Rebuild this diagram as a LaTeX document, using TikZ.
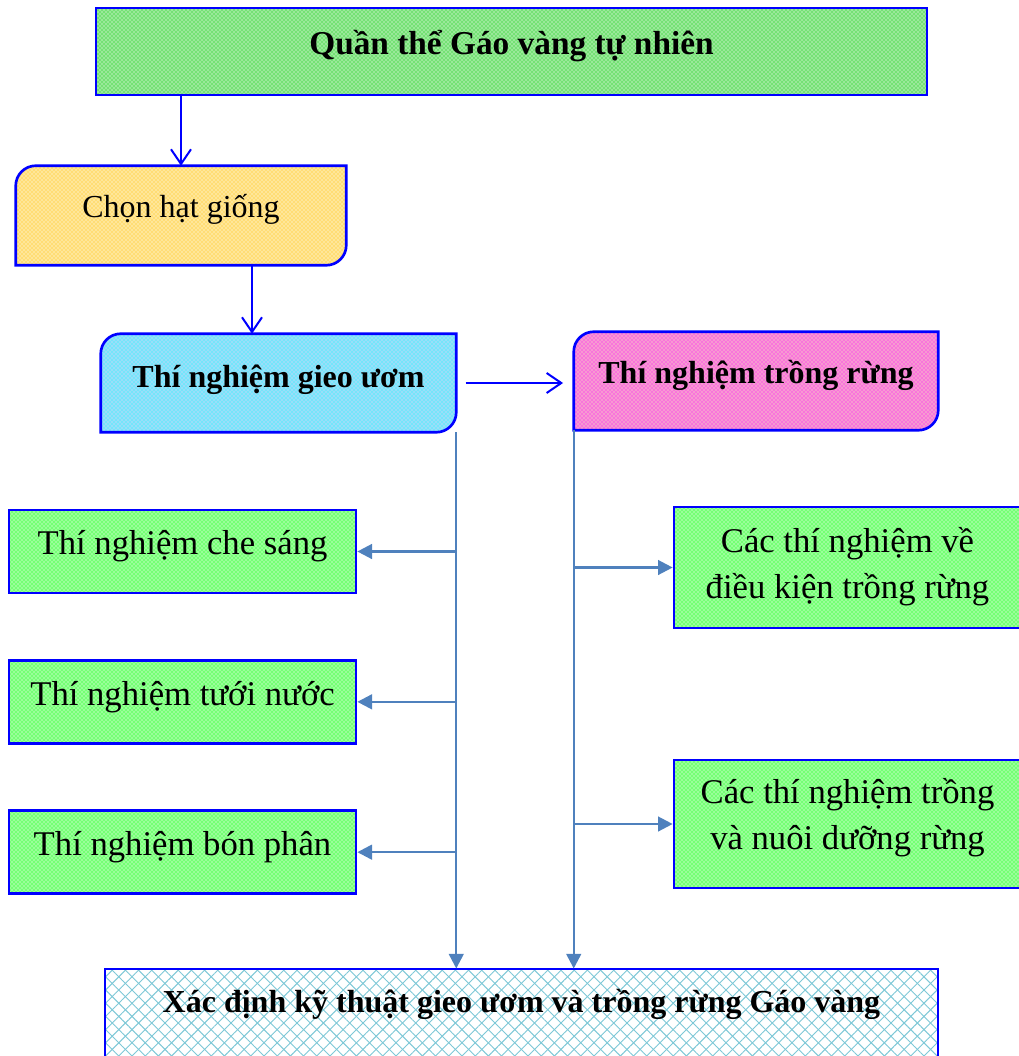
\documentclass[tikz,border=0pt]{standalone}
\usepackage{fontspec}
\setmainfont{Liberation Serif}
\usetikzlibrary{positioning, arrows.meta, patterns, patterns.meta, backgrounds}
\definecolor{frameblue}{RGB}{0,0,255}
\definecolor{linkblue}{RGB}{79,129,189}
\definecolor{seedorange}{RGB}{255,192,0}
\definecolor{gridblue}{RGB}{125,200,215}
\definecolor{darkgreen}{RGB}{0,200,0}
\tikzset{
    frame/.style={draw=frameblue, line width=2pt}, % blue outline of every box
    dotted fill/.style={preaction={fill=#1!40}, pattern=crosshatch dots, pattern color=#1},
    box/.style={frame, inner sep=0pt, align=center},
    plain/.style={inner sep=0pt, align=center}, % text of the boxes with cut corners
    stepfont/.style={font=\fontsize{26}{34.5}\selectfont},
    headfont/.style={font=\bfseries\fontsize{24}{29}\selectfont},
    sidebox/.style={box, dotted fill=green, stepfont, text depth=13pt, minimum width=260.25pt, minimum height=62.25pt},
    flow/.style={draw=frameblue, line width=1.5pt, -{Straight Barb[length=11pt, width=15pt]}},
    branch/.style={draw=linkblue, line width=1.8pt, -{Triangle[length=11pt, width=11pt]}},
    node distance=48.5pt,
}
\begin{document}
\begin{tikzpicture}[x=0.75pt, y=-0.75pt]
\useasboundingbox (0,0) rectangle (1019,1056);

% main line
\node[box, dotted fill=darkgreen, font=\bfseries\fontsize{25}{30}\selectfont, text depth=13pt,
      minimum width=623.25pt, minimum height=65.25pt] (quan) at (511.5,51.5) {Quần thể Gáo vàng tự nhiên};
\node[plain, font=\fontsize{24}{29}\selectfont, text depth=14pt, minimum width=247.5pt, minimum height=74.25pt] (chon) at (181,215.5) {Chọn hạt giống};
\node[plain, headfont, text depth=10pt, minimum width=266.25pt, minimum height=73.5pt] (gieo) at (278.5,383) {Thí nghiệm gieo ươm};
\node[plain, headfont, text depth=14pt, minimum width=273pt, minimum height=73.5pt] (trong) at (756,381) {Thí nghiệm trồng rừng};

% boxes with two cut corners
\begin{scope}[on background layer]
\foreach \n/\c in {chon/seedorange, gieo/cyan, trong/magenta}
    \draw[frame, dotted fill=\c] (\n.south west) -- ([yshift=-15pt]\n.north west)
        arc[start angle=180, end angle=90, radius=15pt] -- (\n.north east)
        -- ([yshift=15pt]\n.south east) arc[start angle=0, end angle=-90, radius=15pt] -- cycle;
\end{scope}

% nursery trials
\node[sidebox] (che) at (182.5,551.5) {Thí nghiệm che sáng};
\node[sidebox, below=of che] (tuoi) {Thí nghiệm tưới nước};
\node[sidebox, below=of tuoi] (bon) {Thí nghiệm bón phân};

% planting trials
\node[box, dotted fill=green, stepfont, text depth=7pt, minimum width=260.25pt, minimum height=90.75pt] (dk) at (847.5,567.5)
    {Các thí nghiệm về\\điều kiện trồng rừng};
\node[box, dotted fill=green, stepfont, text depth=15pt, minimum width=260.25pt, minimum height=96pt] (nuoi) at (847.5,824)
    {Các thí nghiệm trồng\\và nuôi dưỡng rừng};

% result
\node[box, headfont, text depth=19.5pt, minimum width=624.75pt, minimum height=67.5pt,
      preaction={fill=white},
      preaction={pattern={Lines[angle=45, distance=7pt, line width=0.7pt]}, pattern color=gridblue},
      pattern={Lines[angle=-45, distance=7pt, line width=0.7pt]}, pattern color=gridblue] (ket) at (521.5,1014)
    {Xác định kỹ thuật gieo ươm và trồng rừng Gáo vàng};

% connectors
\draw[flow] (chon.north |- quan.south) -- (chon.north);
\draw[flow] ([xshift=53.25pt]chon.south) -- ([xshift=53.25pt]chon.south |- gieo.north);
\draw[flow] ([xshift=7pt]gieo.east) -- ([xshift=-8pt]trong.west |- gieo.east);

\draw[branch] (gieo.south east) -- (gieo.south east |- ket.north);
\draw[branch] (trong.south west) -- (trong.south west |- ket.north);
\foreach \t in {che, tuoi, bon}
    \draw[branch] (gieo.south east |- \t.east) -- (\t.east);
\foreach \t in {dk, nuoi}
    \draw[branch] (trong.south west |- \t.west) -- (\t.west);
\end{tikzpicture}
\end{document}
